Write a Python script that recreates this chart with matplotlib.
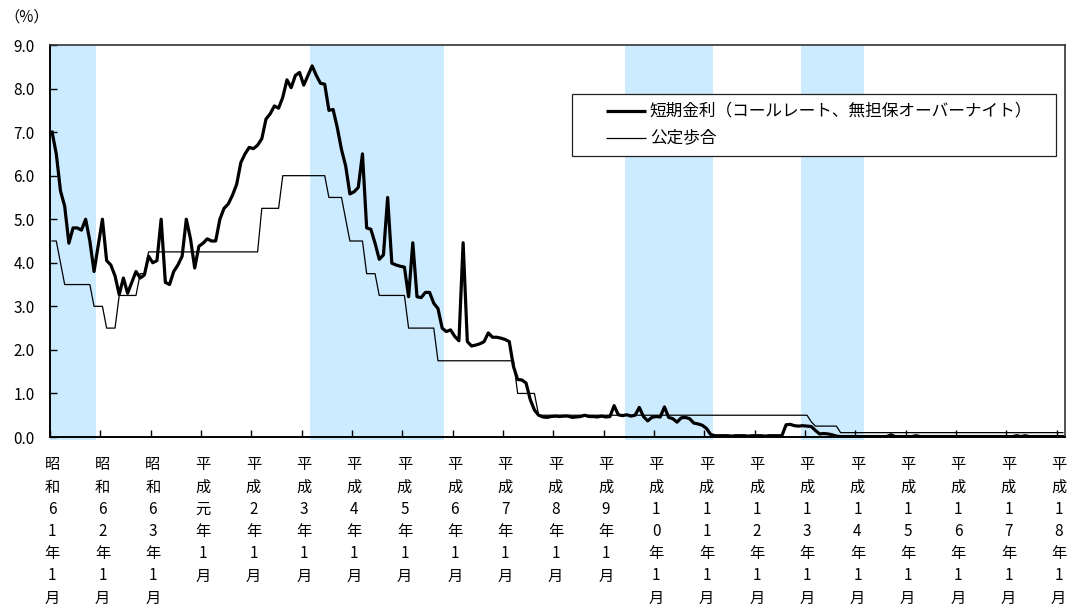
import numpy as np
import matplotlib
matplotlib.use("Agg")
import matplotlib.pyplot as plt
from matplotlib.patches import Rectangle

plt.rcParams['font.family'] = ['Noto Sans CJK JP', 'DejaVu Sans']

# Monthly call rate (%), Jan 1986 - Feb 2006, one row per year
call_rate = [
    7.00, 6.50, 5.65, 5.30, 4.45, 4.80, 4.80, 4.75, 5.00, 4.50, 3.80, 4.40,
    5.00, 4.05, 3.95, 3.70, 3.27, 3.65, 3.30, 3.55, 3.80, 3.65, 3.72, 4.15,
    4.00, 4.05, 5.00, 3.55, 3.50, 3.80, 3.95, 4.15, 5.00, 4.55, 3.88, 4.38,
    4.45, 4.55, 4.50, 4.50, 5.00, 5.25, 5.35, 5.55, 5.80, 6.30, 6.50, 6.65,
    6.62, 6.70, 6.85, 7.30, 7.42, 7.60, 7.55, 7.80, 8.20, 8.02, 8.30, 8.37,
    8.08, 8.30, 8.52, 8.30, 8.12, 8.10, 7.50, 7.52, 7.10, 6.60, 6.22, 5.58,
    5.63, 5.73, 6.50, 4.80, 4.77, 4.45, 4.08, 4.18, 5.50, 3.99, 3.95, 3.92,
    3.90, 3.22, 4.46, 3.22, 3.20, 3.32, 3.32, 3.07, 2.95, 2.50, 2.42, 2.46,
    2.31, 2.21, 4.46, 2.19, 2.09, 2.11, 2.14, 2.19, 2.39, 2.29, 2.29, 2.27,
    2.24, 2.19, 1.62, 1.32, 1.31, 1.24, 0.86, 0.62, 0.50, 0.46, 0.45, 0.47,
    0.48, 0.47, 0.48, 0.48, 0.45, 0.46, 0.47, 0.50, 0.47, 0.47, 0.46, 0.48,
    0.46, 0.47, 0.72, 0.51, 0.49, 0.51, 0.48, 0.50, 0.68, 0.47, 0.37, 0.45,
    0.47, 0.46, 0.69, 0.45, 0.42, 0.34, 0.44, 0.45, 0.42, 0.32, 0.30, 0.27,
    0.20, 0.06, 0.03, 0.03, 0.03, 0.03, 0.02, 0.03, 0.03, 0.03, 0.02, 0.03,
    0.03, 0.03, 0.02, 0.03, 0.03, 0.03, 0.03, 0.28, 0.29, 0.26, 0.25, 0.26,
    0.25, 0.24, 0.15, 0.07, 0.08, 0.07, 0.05, 0.02, 0.01, 0.01, 0.01, 0.01,
    0.01, 0.01, 0.01, 0.01, 0.01, 0.01, 0.01, 0.01, 0.05, 0.01, 0.01, 0.01,
    0.01, 0.01, 0.03, 0.01, 0.01, 0.01, 0.01, 0.01, 0.01, 0.01, 0.01, 0.01,
    0.01, 0.01, 0.01, 0.01, 0.01, 0.01, 0.01, 0.01, 0.01, 0.01, 0.01, 0.01,
    0.01, 0.01, 0.03, 0.01, 0.03, 0.01, 0.01, 0.01, 0.01, 0.01, 0.01, 0.01,
    0.01, 0.01,
]

# Official discount rate (%): level and number of months it is held
discount_levels = [4.5, 4.0, 3.5, 3.0, 2.5, 3.25, 3.75, 4.25, 5.25, 6.0, 5.5,
                   5.0, 4.5, 3.75, 3.25, 2.5, 1.75, 1.0, 0.5, 0.35, 0.25, 0.1]
discount_months = [2, 1, 7, 3, 3, 5, 2, 27, 5, 11, 4,
                   1, 4, 3, 7, 7, 19, 5, 65, 1, 6, 54]

# Recession periods (first and last month index, inclusive)
recessions = [(0, 10), (62, 93), (137, 157), (179, 193)]

tick_labels = [
    "昭和61年1月", "昭和62年1月", "昭和63年1月", "平成元年1月", "平成2年1月",
    "平成3年1月", "平成4年1月", "平成5年1月", "平成6年1月", "平成7年1月",
    "平成8年1月", "平成9年1月", "平成10年1月", "平成11年1月", "平成12年1月",
    "平成13年1月", "平成14年1月", "平成15年1月", "平成16年1月", "平成17年1月",
    "平成18年1月",
]
series_names = ["短期金利（コールレート、無担保オーバーナイト）", "公定歩合"]

months = np.arange(len(call_rate))
discount_rate = np.repeat(discount_levels, discount_months)

W, H = 1069, 610
fig = plt.figure(figsize=(W / 100, H / 100), dpi=100)
ax = fig.add_axes([50 / W, 1 - 437 / H, 1015 / W, 392 / H])

for first, last in recessions:
    ax.axvspan(first - 0.5, last + 0.5, ymin=-0.008, ymax=1.0,
               facecolor='#CCEBFF', edgecolor='none', zorder=0, clip_on=False)

thin, = ax.plot(months, discount_rate, color='black', lw=0.9, zorder=3)
thick, = ax.plot(months, call_rate, color='black', lw=2.3, zorder=4)

ax.set_xlim(-0.5, len(call_rate) - 0.5)
ax.set_ylim(0, 9)

yt = np.arange(0, 10, 1)
ax.set_yticks(yt)
ax.set_yticklabels([f"{v:.1f}" for v in yt])
ax.tick_params(axis='y', direction='in', length=5, width=1, labelsize=11, pad=11)

# Tick marks on year boundaries, labels centred under each January
ax.set_xticks([12 * k - 0.5 for k in range(len(tick_labels))])
ax.set_xticklabels([])
ax.set_xticks([12 * k for k in range(len(tick_labels))], minor=True)
ax.set_xticklabels(["\n".join(s) for s in tick_labels], minor=True,
                   linespacing=1.4, va='top')
ax.tick_params(axis='x', which='major', direction='in', length=5, width=1)
ax.tick_params(axis='x', which='minor', length=0, labelsize=11, pad=14)

for side in ['left', 'bottom']:
    ax.spines[side].set_color('black')
    ax.spines[side].set_linewidth(1.4)
for side in ['top', 'right']:
    ax.spines[side].set_color('#333333')
    ax.spines[side].set_linewidth(1.2)

fig.text(27 / W, 1 - 17 / H, "（%）", ha='center', va='center', fontsize=11)

# Legend box
ax.add_patch(Rectangle((0.5143, 0.717), 0.4768, 0.158, transform=ax.transAxes,
                       facecolor='white', edgecolor='#222222', lw=0.9, zorder=5))
for line, name, y in [(thick, series_names[0], 0.832), (thin, series_names[1], 0.763)]:
    ax.plot([0.548, 0.587], [y, y], transform=ax.transAxes, color=line.get_color(),
            lw=line.get_linewidth(), zorder=6, clip_on=False, solid_capstyle='butt')
    ax.text(0.591, y, name, transform=ax.transAxes, va='center', ha='left',
            fontsize=12, zorder=6)

fig.savefig("out.png", dpi=100)
